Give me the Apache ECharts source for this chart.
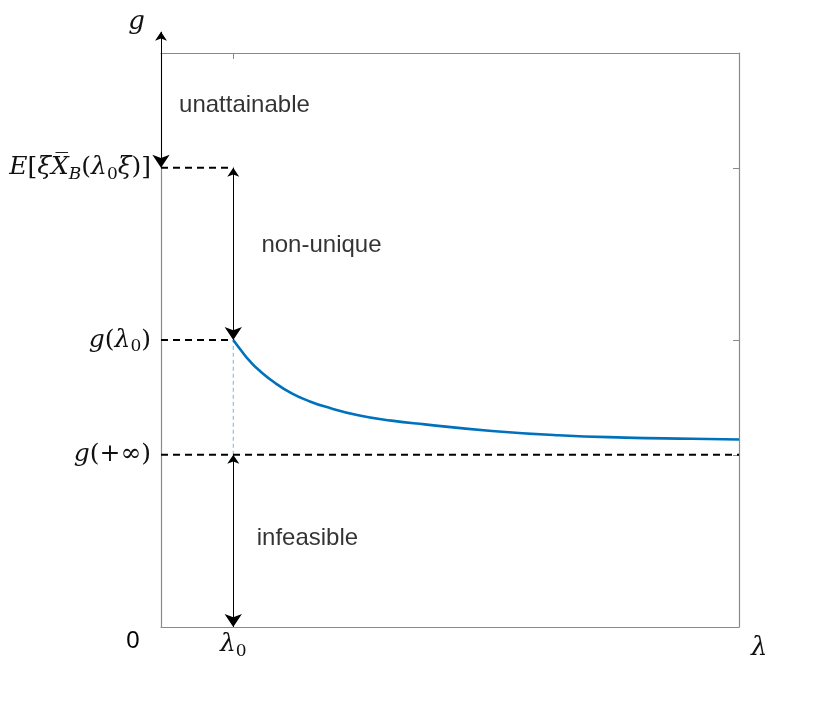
<!DOCTYPE html>
<html>
<head>
<meta charset="utf-8">
<script src="https://cdn.jsdelivr.net/npm/echarts@6/dist/echarts.min.js"></script>
<style>
  html, body { margin: 0; padding: 0; background: #fff; }
  #chart { width: 817px; height: 704px; }
</style>
</head>
<body>
<div id="chart"></div>
<script>
// axis ranges
const lambdaMax = 8
const gMax = 10
const lambda0 = 1

// g levels marked on the left axis
const levelValues = [3, 5, 8]
const levelNames = ['gInf', 'gLambda0', 'expect']

// the g(lambda) curve
const curveLambda = [1, 1.12, 1.23, 1.35, 1.58, 1.81, 2.04, 2.27, 2.73, 3.19, 3.65, 4.58, 5.5, 6.42, 7.35, 8]
const curveG = [5, 4.8, 4.63, 4.48, 4.25, 4.07, 3.94, 3.84, 3.69, 3.595, 3.53, 3.415, 3.34, 3.3, 3.28, 3.266]

// region notes
const noteText = ['unattainable', 'non-unique', 'infeasible']
const noteLambda = [0.25, 1.39, 1.325]
const noteG = [9.09, 6.65, 1.55]

// double arrows, [from, to] in (lambda, g)
const arrowFrom = [[0, 10.37], [1, 8], [1, 3]]
const arrowTo = [[0, 8], [1, 5], [1, 0]]

const boxColor = '#8a8a8a'
const curveColor = '#0072BD'
const mathFont = '"DejaVu Serif", "Liberation Serif", serif'
const textFont = '"Liberation Sans", Arial, sans-serif'

const mathRich = {
  i: { fontFamily: mathFont, fontStyle: 'italic', fontSize: 25, color: '#111' },
  n: { fontFamily: mathFont, fontSize: 25, color: '#111' },
  si: { fontFamily: mathFont, fontStyle: 'italic', fontSize: 17, color: '#111', padding: [14, 0, 0, 0] },
  s: { fontFamily: mathFont, fontSize: 17, color: '#111', padding: [14, 0, 0, 0] },
  z: { fontFamily: textFont, fontSize: 24, color: '#000', padding: [0, 56, 14, 0] }
}

const levelLabel = {
  gInf: '{i|g}{n|(+∞)}',
  gLambda0: '{i|g}{n|(}{i|λ}{s|0}{n|)}',
  expect: '{i|E}{n|[}{i|ξX\u0305}{si|B}{n|(}{i|λ}{s|0}{i|ξ}{n|)]}'
}

const chart = echarts.init(document.getElementById('chart'))

const dashed = levelValues.map(function (v, k) {
  const xEnd = k === 0 ? lambdaMax : lambda0
  return {
    type: 'line',
    data: [[0, v], [xEnd, v]],
    symbol: 'none',
    silent: true,
    z: 3,
    lineStyle: { color: '#000', width: 2, type: [7, 5] }
  }
})

chart.setOption({
  animation: false,
  grid: { left: 161, top: 53, width: 578, height: 574 },
  xAxis: [{
    type: 'value',
    min: 0,
    max: lambdaMax,
    position: 'bottom',
    name: 'λ',
    nameLocation: 'end',
    nameGap: 12,
    nameTextStyle: { fontFamily: mathFont, fontStyle: 'italic', fontSize: 26, color: '#111', verticalAlign: 'top', padding: [8, 0, 0, 0] },
    axisLine: { onZero: false, lineStyle: { color: boxColor, width: 1.2 } },
    axisTick: { show: false },
    splitLine: { show: false },
    axisLabel: {
      customValues: [0, lambda0],
      margin: 2,
      formatter: function (v) {
        return v === 0 ? '{z|0}' : '{i|λ}{s|0}'
      },
      rich: mathRich
    }
  }, {
    type: 'value',
    min: 0,
    max: lambdaMax,
    position: 'top',
    axisLine: { onZero: false, lineStyle: { color: boxColor, width: 1.2 } },
    axisTick: { inside: true, length: 6, customValues: [lambda0], lineStyle: { color: boxColor } },
    axisLabel: { show: false },
    splitLine: { show: false }
  }],
  yAxis: [{
    type: 'value',
    min: 0,
    max: gMax,
    position: 'left',
    name: 'g',
    nameLocation: 'end',
    nameGap: 18,
    nameTextStyle: { fontFamily: mathFont, fontStyle: 'italic', fontSize: 26, color: '#111', align: 'right', padding: [0, 16, 0, 0] },
    axisLine: { onZero: false, lineStyle: { color: boxColor, width: 1.2 } },
    axisTick: { show: false },
    splitLine: { show: false },
    axisLabel: {
      customValues: levelValues,
      margin: 10,
      formatter: function (v) {
        return levelLabel[levelNames[levelValues.indexOf(v)]]
      },
      rich: mathRich
    }
  }, {
    type: 'value',
    min: 0,
    max: gMax,
    position: 'right',
    axisLine: { onZero: false, lineStyle: { color: boxColor, width: 1.2 } },
    axisTick: { inside: true, length: 6, customValues: levelValues, lineStyle: { color: boxColor } },
    axisLabel: { show: false },
    splitLine: { show: false }
  }],
  series: dashed.concat([
    {
      type: 'line',
      data: [[lambda0, levelValues[0]], [lambda0, levelValues[1]]],
      symbol: 'none',
      silent: true,
      z: 2,
      lineStyle: { color: '#6fb6e6', width: 1, type: [4, 3] }
    },
    {
      type: 'line',
      data: curveLambda.map(function (x, k) { return [x, curveG[k]] }),
      smooth: 0.5,
      symbol: 'none',
      z: 4,
      lineStyle: { color: curveColor, width: 2.6 }
    },
    {
      type: 'lines',
      coordinateSystem: 'cartesian2d',
      clip: false,
      z: 5,
      symbol: ['arrow', 'arrow'],
      symbolSize: [9, 13],
      lineStyle: { color: '#000', width: 1, opacity: 1 },
      data: arrowFrom.map(function (p, k) { return { coords: [p, arrowTo[k]] } })
    },
    {
      type: 'scatter',
      symbolSize: 0,
      silent: true,
      z: 6,
      data: noteText.map(function (t, k) { return { name: t, value: [noteLambda[k], noteG[k]] } }),
      label: {
        show: true,
        position: 'right',
        distance: 0,
        formatter: '{t|{b}}',
        rich: { t: { fontFamily: textFont, fontSize: 24, color: '#000' } }
      }
    }
  ])
})
</script>
</body>
</html>
